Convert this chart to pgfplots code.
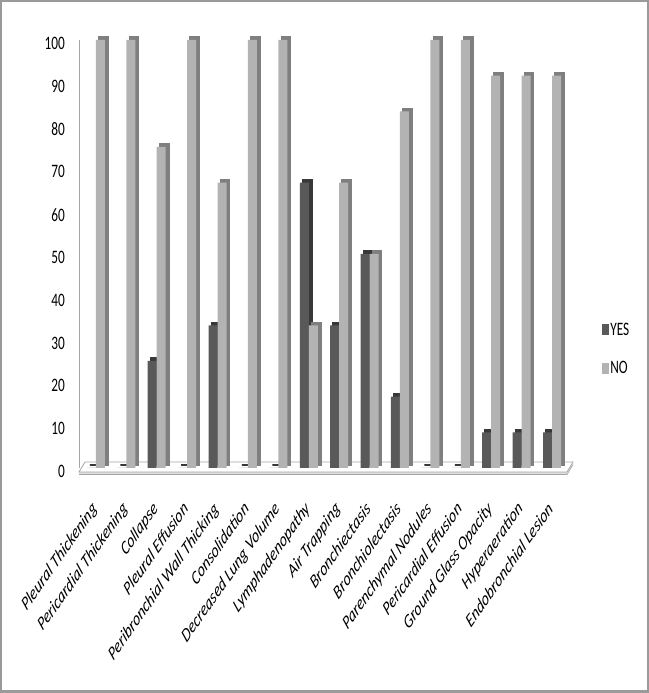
\documentclass[border=0pt]{standalone}
\usepackage{pgfplots}
\pgfplotsset{compat=1.18}
\usepackage{fontspec}
\setmainfont{Carlito}
\newfontfamily\condfont{Carlito}[FakeStretch=0.7]
\definecolor{yesF}{HTML}{595959}
\definecolor{yesS}{HTML}{383838}
\definecolor{noF}{HTML}{B3B3B3}
\definecolor{noS}{HTML}{7F7F7F}
\definecolor{frameC}{HTML}{9A9A9A}
\pgfplotstableread{
x yes no
0 0 100
1 0 100
2 25 75
3 0 100
4 33.3 66.7
5 0 100
6 0 100
7 66.7 33.3
8 33.3 66.7
9 50 50
10 16.7 83.3
11 0 100
12 0 100
13 8.3 91.7
14 8.3 91.7
15 8.3 91.7
}\datatable
\begin{document}
\begin{tikzpicture}
\useasboundingbox (0,0) rectangle (649bp,693bp);
\draw[frameC, line width=2bp] (1.2bp,1.5bp) rectangle (647.8bp,691.5bp);
% floor
\fill[gray!25] (79bp,221bp) -- (567bp,221bp) -- (567bp,218.5bp) -- (79bp,218.5bp) -- cycle;
\draw[gray!70, line width=0.8bp, fill=white] (79bp,221bp) -- (85bp,231bp) -- (573bp,231bp) -- (567bp,221bp) -- cycle;
\draw[gray!70, line width=0.8bp] (79bp,218.5bp) -- (567bp,218.5bp) -- (573bp,228.5bp);
\begin{axis}[
  at={(79bp,225bp)}, anchor=south west,
  scale only axis, width=494bp, height=428bp,
  xmin=-0.557, xmax=15.69, ymin=0, ymax=100,
  clip=false,
  axis lines*=left,
  x axis line style={draw=none},
  y axis line style={draw=gray!70, line width=0.8bp, -},
  major tick length=0pt,
  ytick={0,10,...,100},
  xtick={0,...,15},
  xticklabels={Pleural Thickening,Pericardial Thickening,Collapse,Pleural Effusion,Peribronchial Wall Thicking,Consolidation,Decreased Lung Volume,Lymphadenopathy,Air Trapping,Bronchiectasis,Bronchiolectasis,Parenchymal Nodules,Pericardial Effusion,Ground Glass Opacity,Hyperaeration,Endobronchial Lesion},
  /pgf/number format/assume math mode=true,
  yticklabel style={font=\fontsize{19bp}{22bp}\condfont, inner sep=0pt, xshift=-14bp, yshift=-3.5bp},
  xticklabel style={font=\fontsize{19.5bp}{22bp}\selectfont\itshape, anchor=north east, inner sep=0pt, xshift=-5bp, yshift=-32bp, cm={0.495,0.7071,-0.495,0.7071,(0,0)}},
  ybar, bar width=9bp,
  legend style={at={(1.059,0.278)}, anchor=west, draw=none, fill=none, inner sep=0pt,
    font=\fontsize{19bp}{22bp}\condfont, row sep=23bp, nodes={inner sep=1bp}},
  legend cell align=left,
  legend image code/.code={\fill[#1] (0bp,-5.5bp) rectangle (7bp,5.5bp);},
]
\addplot[forget plot, fill=yesS, draw=yesS, line width=1.6bp, bar shift=-1.5bp, yshift=3bp] table[x=x,y=yes]{\datatable};
\addplot[fill=yesF, draw=none, bar shift=-4.5bp] table[x=x,y=yes]{\datatable};
\addplot[forget plot, fill=noS, draw=noS, line width=1.6bp, bar shift=7.5bp, yshift=3bp] table[x=x,y=no]{\datatable};
\addplot[fill=noF, draw=none, bar shift=4.5bp] table[x=x,y=no]{\datatable};
\legend{YES,NO}
\end{axis}
\end{tikzpicture}
\end{document}
